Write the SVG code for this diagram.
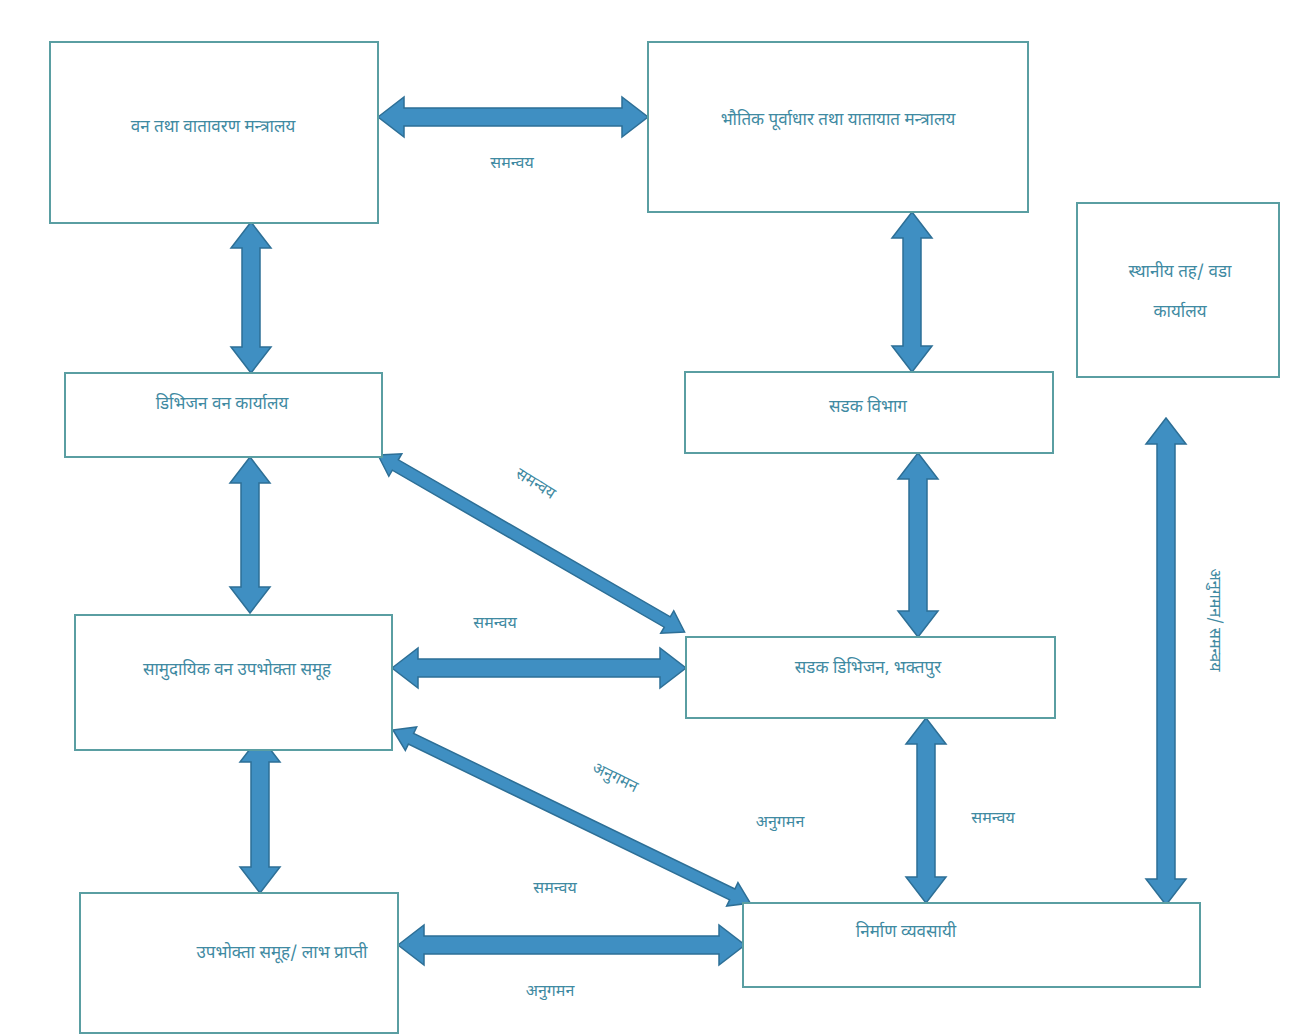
<svg xmlns="http://www.w3.org/2000/svg" width="1290" height="1035" viewBox="0 0 1290 1035">
<style>
.box{fill:#ffffff;stroke:#5a9ea2;stroke-width:2}
.t{font-family:"Noto Sans Devanagari","Noto Sans","DejaVu Sans",sans-serif;font-size:17px;fill:#3f8aa2;text-anchor:middle}
.lb{font-family:"Noto Sans Devanagari","Noto Sans","DejaVu Sans",sans-serif;font-size:16px;fill:#3f8aa2;text-anchor:middle}
.arr{fill:#3f8fc2;stroke:#2d6f96;stroke-width:1.5;stroke-linejoin:miter}
</style>
<rect width="1290" height="1035" fill="#ffffff"/>
<g id="connectors">
<path class="arr" transform="translate(378,117)" d="M0,0 L26,-20 L26,-9 L244,-9 L244,-20 L270,0 L244,20 L244,9 L26,9 L26,20 Z"/>
<path class="arr" transform="translate(251,222) rotate(90)" d="M0,0 L26,-20 L26,-9 L125,-9 L125,-20 L151,0 L125,20 L125,9 L26,9 L26,20 Z"/>
<path class="arr" transform="translate(912,212) rotate(90)" d="M0,0 L26,-20 L26,-9 L134,-9 L134,-20 L160,0 L134,20 L134,9 L26,9 L26,20 Z"/>
<path class="arr" transform="translate(250,457) rotate(90)" d="M0,0 L26,-20 L26,-9 L130,-9 L130,-20 L156,0 L130,20 L130,9 L26,9 L26,20 Z"/>
<path class="arr" transform="translate(918,453) rotate(90)" d="M0,0 L26,-20 L26,-9 L158,-9 L158,-20 L184,0 L158,20 L158,9 L26,9 L26,20 Z"/>
<path class="arr" transform="translate(392,668)" d="M0,0 L26,-20 L26,-9 L268,-9 L268,-20 L294,0 L268,20 L268,9 L26,9 L26,20 Z"/>
<path class="arr" transform="translate(260,736) rotate(90)" d="M0,0 L26,-20 L26,-9 L131,-9 L131,-20 L157,0 L131,20 L131,9 L26,9 L26,20 Z"/>
<path class="arr" transform="translate(398,945)" d="M0,0 L26,-20 L26,-9 L321,-9 L321,-20 L347,0 L321,20 L321,9 L26,9 L26,20 Z"/>
<path class="arr" transform="translate(926,718) rotate(90)" d="M0,0 L26,-20 L26,-9 L159,-9 L159,-20 L185,0 L159,20 L159,9 L26,9 L26,20 Z"/>
<path class="arr" transform="translate(1166,418) rotate(90)" d="M0,0 L26,-20 L26,-9 L461,-9 L461,-20 L487,0 L461,20 L461,9 L26,9 L26,20 Z"/>
<path class="arr" transform="translate(378,455) rotate(30)" d="M0,0 L20,-13 L20,-6 L334,-6 L334,-13 L354,0 L334,13 L334,6 L20,6 L20,13 Z"/>
<path class="arr" transform="translate(393,730) rotate(25.85)" d="M0,0 L20,-13 L20,-6 L377,-6 L377,-13 L397,0 L377,13 L377,6 L20,6 L20,13 Z"/>
<text class="lb" x="512" y="168">समन्वय</text>
<text class="lb" transform="translate(533,488) rotate(32)">समन्वय</text>
<text class="lb" x="495" y="628">समन्वय</text>
<text class="lb" transform="translate(613,782) rotate(26)">अनुगमन</text>
<text class="lb" x="555" y="893">समन्वय</text>
<text class="lb" x="550" y="996">अनुगमन</text>
<text class="lb" x="780" y="827">अनुगमन</text>
<text class="lb" x="993" y="823">समन्वय</text>
<text class="lb" transform="translate(1210,620) rotate(90)">अनुगमन/ समन्वय</text>
</g>
<g id="n1"><rect class="box" x="50" y="42" width="328" height="181"/><text class="t" x="213" y="132">वन तथा वातावरण मन्त्रालय</text></g>
<g id="n2"><rect class="box" x="648" y="42" width="380" height="170"/><text class="t" x="838" y="125">भौतिक पूर्वाधार तथा यातायात मन्त्रालय</text></g>
<g id="n3"><rect class="box" x="1077" y="203" width="202" height="174"/><text class="t" x="1180" y="277">स्थानीय तह/ वडा</text><text class="t" x="1180" y="317">कार्यालय</text></g>
<g id="n4"><rect class="box" x="65" y="373" width="317" height="84"/><text class="t" x="222" y="409">डिभिजन वन कार्यालय</text></g>
<g id="n5"><rect class="box" x="685" y="372" width="368" height="81"/><text class="t" x="868" y="412">सडक विभाग</text></g>
<g id="n6"><rect class="box" x="75" y="615" width="317" height="135"/><text class="t" x="237" y="675">सामुदायिक वन उपभोक्ता समूह</text></g>
<g id="n7"><rect class="box" x="686" y="637" width="369" height="81"/><text class="t" x="868" y="673">सडक डिभिजन, भक्तपुर</text></g>
<g id="n8"><rect class="box" x="80" y="893" width="318" height="140"/><text class="t" x="282" y="958">उपभोक्ता समूह/ लाभ प्राप्ती</text></g>
<g id="n9"><rect class="box" x="743" y="903" width="457" height="84"/><text class="t" x="906" y="937">निर्माण व्यवसायी</text></g>
</svg>
